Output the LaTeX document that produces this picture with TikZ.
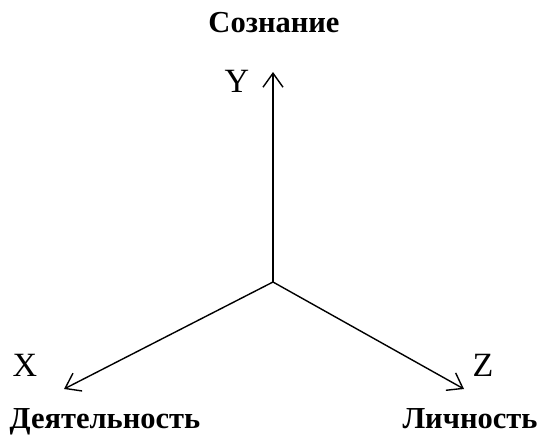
\documentclass[tikz,border=0pt]{standalone}
\usepackage{fontspec}
\setmainfont{Liberation Serif}
\usetikzlibrary{arrows.meta, positioning}

\begin{document}
\begin{tikzpicture}[
    x=1pt, y=-1pt, >={Straight Barb[length=14pt, width=20pt]},
    axis/.style={->, line width=1.4pt},
    letter/.style={font=\fontsize{34}{38}\selectfont, inner sep=0pt, anchor=base},
    title/.style={font=\fontsize{30.5}{34}\selectfont\bfseries, inner sep=0pt, anchor=base}
  ]
  \useasboundingbox (0,0) rectangle (549,439);

  % Axes
  \coordinate (o) at (273, 282);
  \coordinate (y) at (273, 72);
  \coordinate (x) at (64, 389);
  \coordinate (z) at (464, 389);
  \draw[axis] (o) -- (y);
  \draw[axis] (o) -- (x);
  \draw[axis] (o) -- (z);

  % Axis letters
  \node[letter] (ly) at (237, 92) {Y};
  \node[letter] (lx) at (25, 376) {X};
  \node[letter] (lz) at (483, 376) {Z};

  % Titles
  \node[title] (con) at (274, 32) {Сознание};
  \node[title] (act) at (105, 428) {Деятельность};
  \node[title] (per) at (470, 428) {Личность};
\end{tikzpicture}
\end{document}
